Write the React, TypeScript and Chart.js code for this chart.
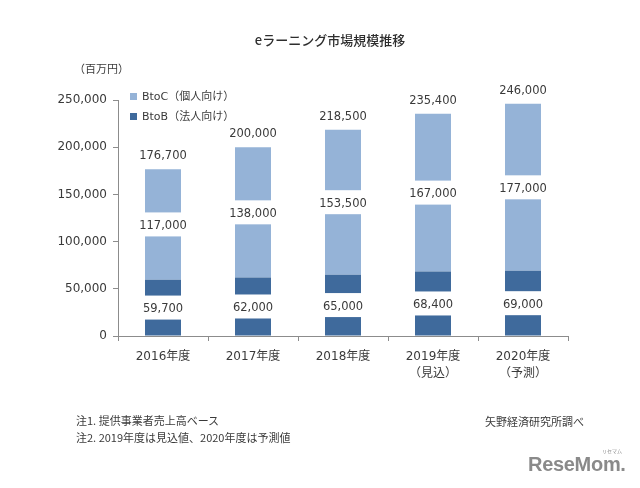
import React, { useEffect, useRef } from "react";
import { Chart, registerables } from "chart.js";

Chart.register(...registerables);

const categories: string[][] = [
  ["2016年度"],
  ["2017年度"],
  ["2018年度"],
  ["2019年度", "（見込）"],
  ["2020年度", "（予測）"],
];
const btobValues = [59700, 62000, 65000, 68400, 69000];
const btocValues = [117000, 138000, 153500, 167000, 177000];
const totalValues = [176700, 200000, 218500, 235400, 246000];
const yTicks = [0, 50000, 100000, 150000, 200000, 250000];

const LIGHT = "#95B3D7";
const DARK = "#3F6A9C";
const TEXT = "#3A3A3A";
const FONT = '"DejaVu Sans", "Noto Sans CJK JP", sans-serif';
const JFONT = '"Noto Sans CJK JP", "DejaVu Sans", sans-serif';

const fmt = (v: number) => v.toLocaleString("en-US");

const valueLabels = {
  id: "valueLabels",
  afterDatasetsDraw(chart: any) {
    const ctx = chart.ctx as CanvasRenderingContext2D;
    const metaB = chart.getDatasetMeta(0);
    const metaC = chart.getDatasetMeta(1);
    ctx.save();
    ctx.font = `11.5px ${FONT}`;
    ctx.textAlign = "center";
    ctx.textBaseline = "middle";
    const drawBoxLabel = (x: number, cy: number, text: string) => {
      ctx.fillStyle = "#ffffff";
      ctx.fillRect(x - 27, cy - 12, 54, 24);
      ctx.fillStyle = TEXT;
      ctx.fillText(text, x, cy + 1.5);
    };
    metaB.data.forEach((bar: any, i: number) => {
      const p = bar.getProps(["x", "y", "base"], true);
      drawBoxLabel(p.x, (p.y + p.base) / 2, fmt(btobValues[i]));
    });
    metaC.data.forEach((bar: any, i: number) => {
      const p = bar.getProps(["x", "y", "base"], true);
      drawBoxLabel(p.x, (p.y + p.base) / 2, fmt(btocValues[i]));
      ctx.fillStyle = TEXT;
      ctx.fillText(fmt(totalValues[i]), p.x, p.y - 13);
    });
    ctx.restore();
  },
};

function abs(left: number, top: number, extra: React.CSSProperties = {}): React.CSSProperties {
  return { position: "absolute", left, top, whiteSpace: "nowrap", color: TEXT, ...extra };
}

export default function App() {
  const ref = useRef<HTMLCanvasElement | null>(null);

  useEffect(() => {
    if (!ref.current) return;
    const chart = new Chart(ref.current, {
      type: "bar",
      data: {
        labels: categories,
        datasets: [
          {
            label: "BtoB（法人向け）",
            data: btobValues,
            backgroundColor: DARK,
            categoryPercentage: 1,
            barPercentage: 0.4,
            stack: "s",
          },
          {
            label: "BtoC（個人向け）",
            data: btocValues,
            backgroundColor: LIGHT,
            categoryPercentage: 1,
            barPercentage: 0.4,
            stack: "s",
          },
        ],
      },
      options: {
        responsive: false,
        animation: false,
        devicePixelRatio: 1,
        layout: { padding: { top: 100, right: 72, left: 0, bottom: 0 } },
        plugins: {
          legend: { display: false },
          tooltip: { enabled: false },
          title: { display: false },
        },
        scales: {
          x: {
            stacked: true,
            grid: {
              drawOnChartArea: false,
              drawTicks: true,
              tickLength: 5,
              color: "#8C8C8C",
            },
            border: { color: "#8C8C8C", width: 1 },
            ticks: {
              color: TEXT,
              padding: 8,
              font: { family: FONT, size: 12, lineHeight: 1.38 },
              maxRotation: 0,
              autoSkip: false,
            },
            afterFit: (scale: any) => {
              scale.height = 152;
            },
          },
          y: {
            stacked: true,
            min: 0,
            max: 250000,
            afterBuildTicks: (scale: any) => {
              scale.ticks = yTicks.map((v) => ({ value: v }));
            },
            grid: {
              drawOnChartArea: false,
              drawTicks: true,
              tickLength: 5,
              color: "#8C8C8C",
            },
            border: { color: "#8C8C8C", width: 1 },
            ticks: {
              color: TEXT,
              padding: 6,
              font: { family: FONT, size: 12 },
              callback: (v: any) => fmt(Number(v)),
            },
            afterFit: (scale: any) => {
              scale.width = 118;
            },
          },
        },
      },
      plugins: [valueLabels],
    });
    return () => chart.destroy();
  }, []);

  return (
    <div style={{ position: "absolute", left: 0, top: 0, width: 640, height: 488, background: "#fff", overflow: "hidden" }}>
      <canvas ref={ref} width={640} height={488} style={{ position: "absolute", left: 0, top: 0 }} />
      <div style={abs(0, 31, { width: 660, textAlign: "center", fontFamily: JFONT, fontSize: 13, fontWeight: 500, lineHeight: "18px", color: "#2E2E2E" })}>
        eラーニング市場規模推移
      </div>
      <div style={abs(74, 60, { fontFamily: JFONT, fontSize: 11, lineHeight: "16px" })}>（百万円）</div>
      <div style={abs(130, 93, { width: 7, height: 7, background: LIGHT })} />
      <div style={abs(142, 89, { fontFamily: FONT, fontSize: 11, lineHeight: "16px" })}>BtoC（個人向け）</div>
      <div style={abs(130, 113, { width: 7, height: 7, background: DARK })} />
      <div style={abs(142, 109, { fontFamily: FONT, fontSize: 11, lineHeight: "16px" })}>BtoB（法人向け）</div>
      <div style={abs(76, 412, { fontFamily: JFONT, fontSize: 11, lineHeight: "16px" })}>注1. 提供事業者売上高ベース</div>
      <div style={abs(76, 429, { fontFamily: JFONT, fontSize: 11, lineHeight: "16px" })}>注2. 2019年度は見込値、2020年度は予測値</div>
      <div style={abs(485, 413, { fontFamily: JFONT, fontSize: 11, lineHeight: "16px" })}>矢野経済研究所調べ</div>
      <div style={abs(528, 451, { fontFamily: '"Liberation Sans", sans-serif', fontWeight: 700, fontSize: 20, lineHeight: "26px", color: "#8A8A8A", letterSpacing: -0.3 })}>
        ReseMom.
      </div>
      <div style={abs(602, 448, { fontFamily: JFONT, fontSize: 5, lineHeight: "6px", color: "#8A8A8A" })}>リセマム</div>
    </div>
  );
}
